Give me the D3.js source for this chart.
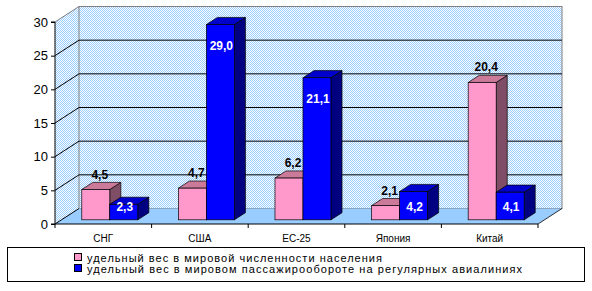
<!DOCTYPE html>
<html><head><meta charset="utf-8">
<script src="https://cdn.jsdelivr.net/npm/d3@7"></script>
<style>body{margin:0;background:#fff}svg{display:block}text{font-family:Arial,"Liberation Sans",sans-serif}</style>
</head><body><svg id="c" width="592" height="291"></svg>
<script>
const categories = ["СНГ", "США", "ЕС-25", "Япония", "Китай"];
const population = [4.5, 4.7, 6.2, 2.1, 20.4];
const passengers = [2.3, 29.0, 21.1, 4.2, 4.1];
const seriesNames = ["удельный вес в мировой численности населения",
  "удельный вес в мировом пассажирообороте на регулярных авиалиниях"];
const yTicks = [0, 5, 10, 15, 20, 25, 30];
const fmt = v => v.toFixed(1).replace(".", ",");

const svg = d3.select("#c");
const defs = svg.append("defs");
const pat = defs.append("pattern").attr("id", "dith").attr("width", 2).attr("height", 2).attr("patternUnits", "userSpaceOnUse");
pat.append("rect").attr("width", 2).attr("height", 2).attr("fill", "#ffffff");
pat.append("rect").attr("width", 1).attr("height", 1).attr("fill", "#99ccff");
pat.append("rect").attr("x", 1).attr("y", 1).attr("width", 1).attr("height", 1).attr("fill", "#99ccff");

const x0 = 55, x1 = 538;
const x = d3.scaleBand().domain(categories).range([x0, x1]).padding(0);
const xs = d3.scaleBand().domain([0, 1]).range([0, x.bandwidth()]).paddingInner(0).paddingOuter(0.725);
const y = d3.scaleLinear().domain([0, 30]).range([224, 22]);
const DX = 24, DY = -15.5;
const tf = 0.27, tb = 0.73;

// side wall
svg.append("path").attr("d", `M${x0},${y(0)}L${x0+DX},${y(0)+DY}L${x0+DX},${y(30)+DY}L${x0},${y(30)}Z`)
  .attr("fill", "url(#dith)");
// back wall
svg.append("rect").attr("x", x0+DX).attr("y", y(30)+DY).attr("width", x1-x0).attr("height", y(0)-y(30))
  .attr("fill", "url(#dith)").attr("stroke", "#808080").attr("stroke-width", 1);
svg.append("line").attr("x1", x0).attr("y1", y(30)).attr("x2", x0+DX).attr("y2", y(30)+DY).attr("stroke", "#808080");
// gridlines
yTicks.filter(v => v > 0 && v < 30).forEach(v => {
  svg.append("line").attr("x1", x0).attr("y1", y(v)).attr("x2", x0+DX).attr("y2", y(v)+DY).attr("stroke", "#000");
  svg.append("line").attr("x1", x0+DX).attr("y1", y(v)+DY).attr("x2", x1+DX).attr("y2", y(v)+DY).attr("stroke", "#000");
});
// floor
svg.append("path").attr("d", `M${x0},${y(0)}L${x1},${y(0)}L${x1+DX},${y(0)+DY}L${x0+DX},${y(0)+DY}Z`)
  .attr("fill", "#99ccff");
svg.append("line").attr("x1", x0).attr("y1", y(0)).attr("x2", x0+DX).attr("y2", y(0)+DY).attr("stroke", "#000");
svg.append("line").attr("x1", x1).attr("y1", y(0)).attr("x2", x1+DX).attr("y2", y(0)+DY).attr("stroke", "#000").attr("stroke-width", 0.8);

// bars
const colors = [
  {front: "#ff99cc", top: "#cc7a99", side: "#804d66"},
  {front: "#0000ff", top: "#0000cc", side: "#000080"}
];
const series = [population, passengers];
const bw = xs.bandwidth();
const g = svg.append("g");
categories.forEach((c, i) => {
  [0, 1].forEach(s => {
    const v = series[s][i];
    const fx = x(c) + xs(s) + DX*tf, fy0 = y(0) + DY*tf, fy1 = y(v) + DY*tf;
    const ddx = DX*(tb-tf), ddy = DY*(tb-tf);
    const col = colors[s];
    g.append("path").attr("d", `M${fx+bw},${fy0}L${fx+bw+ddx},${fy0+ddy}L${fx+bw+ddx},${fy1+ddy}L${fx+bw},${fy1}Z`)
      .attr("fill", col.side).attr("stroke", "#000").attr("stroke-width", 0.7);
    g.append("path").attr("d", `M${fx},${fy1}L${fx+ddx},${fy1+ddy}L${fx+bw+ddx},${fy1+ddy}L${fx+bw},${fy1}Z`)
      .attr("fill", col.top).attr("stroke", "#000").attr("stroke-width", 0.7);
    g.append("rect").attr("x", fx).attr("y", fy1).attr("width", bw).attr("height", fy0-fy1)
      .attr("fill", col.front).attr("stroke", "#000").attr("stroke-width", 0.7);
  });
});
// value labels
categories.forEach((c, i) => {
  [0, 1].forEach(s => {
    const v = series[s][i];
    const fx = x(c) + xs(s) + DX*tf, fy0 = y(0) + DY*tf, fy1 = y(v) + DY*tf;
    const t = g.append("text").attr("text-anchor", "middle").attr("font-size", 12).attr("font-weight", "bold").text(fmt(v));
    if (s === 0) t.attr("x", fx + bw/2 + 4).attr("y", fy1 - 11).attr("fill", "#000");
    else t.attr("x", fx + bw/2 + 1).attr("y", Math.min(fy1 + 25, fy0 - 9)).attr("fill", "#fff");
  });
});

// y axis
const ya = svg.append("g").attr("transform", `translate(${x0},0)`)
  .call(d3.axisLeft(y).tickValues(yTicks).tickSize(4).tickPadding(3).tickFormat(d3.format("d")));
ya.select(".domain").attr("stroke", "#000").attr("d", `M-4,${y(30)}H0V${y(0)}H-4`);
ya.selectAll("text").attr("font-size", 13).attr("font-family", "Arial, 'Liberation Sans', sans-serif").attr("fill", "#000");
ya.selectAll(".tick line").attr("stroke", "#000");

// x axis
svg.append("line").attr("x1", x0).attr("y1", y(0)).attr("x2", x1).attr("y2", y(0)).attr("stroke", "#000");
categories.concat([null]).forEach((c, i) => {
  const px = c === null ? x1 : x(c);
  svg.append("line").attr("x1", px).attr("y1", y(0)).attr("x2", px).attr("y2", y(0)+4).attr("stroke", "#000");
});
categories.forEach(c => {
  svg.append("text").attr("x", x(c) + x.bandwidth()/2).attr("y", 242).attr("text-anchor", "middle")
    .attr("font-size", 10).attr("fill", "#000").text(c);
});

// legend
svg.append("rect").attr("x", 7.5).attr("y", 247.5).attr("width", 577).attr("height", 34)
  .attr("fill", "#fff").attr("stroke", "#000");
const legLen = [295, 435];
seriesNames.forEach((n, s) => {
  const ly = 253 + s*11;
  svg.append("rect").attr("x", 74.5).attr("y", ly + 0.5).attr("width", 7).attr("height", 7)
    .attr("fill", colors[s].front).attr("stroke", "#000");
  svg.append("text").attr("x", 87).attr("y", ly + 8.5).attr("font-size", 11).attr("fill", "#000")
    .attr("textLength", legLen[s]).attr("lengthAdjust", "spacing").text(n);
});
</script></body></html>
